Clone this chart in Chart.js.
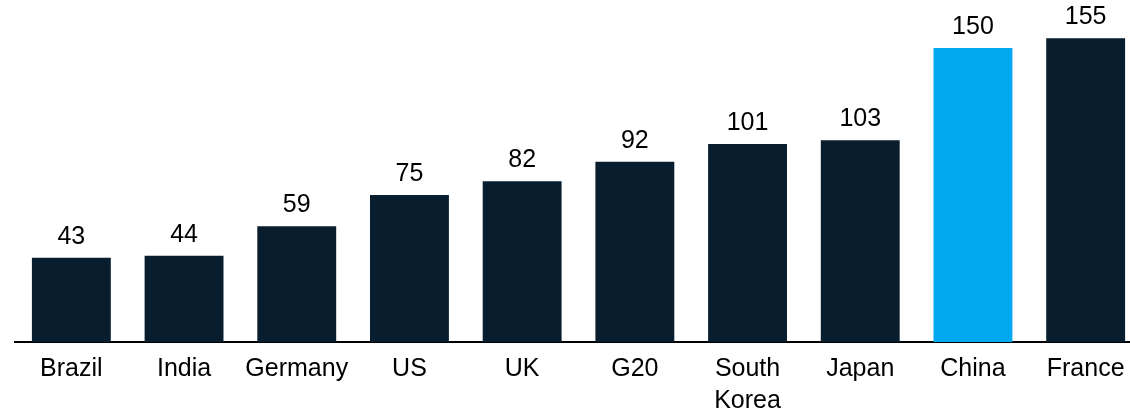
<!DOCTYPE html>
<html>
<head>
<meta charset="utf-8">
<script src="https://cdn.jsdelivr.net/npm/chart.js@4/dist/chart.umd.min.js"></script>
<style>
  html, body { margin: 0; padding: 0; background: #ffffff; overflow: hidden; }
  #wrap { position: relative; width: 1142px; height: 428px; }
</style>
</head>
<body>
<div id="wrap"><canvas id="chart"></canvas></div>
<script>
// Countries / groups along the x axis
const categories = ['Brazil', 'India', 'Germany', 'US', 'UK', 'G20', ['South', 'Korea'], 'Japan', 'China', 'France'];
// Value for each category
const values = [43, 44, 59, 75, 82, 92, 101, 103, 150, 155];
// The highlighted category
const highlight = 'China';

const navy = '#081E2E';
const sky = '#00A8F0';
const barColors = categories.map(c => (c === highlight ? sky : navy));

// Writes each bar's value just above its top
const valueLabels = {
  id: 'valueLabels',
  afterDatasetsDraw(chart) {
    const ctx = chart.ctx;
    const meta = chart.getDatasetMeta(0);
    ctx.save();
    ctx.font = '25px "Liberation Sans", Arial, sans-serif';
    ctx.fillStyle = '#000000';
    ctx.textAlign = 'center';
    ctx.textBaseline = 'middle';
    meta.data.forEach((bar, i) => {
      ctx.fillText(String(values[i]), bar.x, bar.y - 21);
    });
    ctx.restore();
  }
};

new Chart(document.getElementById('chart'), {
  type: 'bar',
  data: {
    labels: categories,
    datasets: [{
      data: values,
      backgroundColor: barColors,
      borderWidth: 0,
      barPercentage: 0.7,
      categoryPercentage: 1.0
    }]
  },
  options: {
    responsive: true,
    maintainAspectRatio: false,
    animation: false,
    layout: { padding: { left: 15, right: 0, top: 0, bottom: 0 } },
    plugins: {
      legend: { display: false },
      tooltip: { enabled: false }
    },
    scales: {
      x: {
        offset: true,
        grid: { display: false, drawTicks: false },
        border: { display: true, color: '#000000', width: 2 },
        ticks: {
          color: '#000000',
          padding: 11,
          maxRotation: 0,
          autoSkip: false,
          font: { family: '"Liberation Sans", Arial, sans-serif', size: 25, lineHeight: 1.28 }
        }
      },
      y: {
        display: false,
        min: 0,
        max: 174.5
      }
    }
  },
  plugins: [valueLabels]
});
</script>
</body>
</html>
